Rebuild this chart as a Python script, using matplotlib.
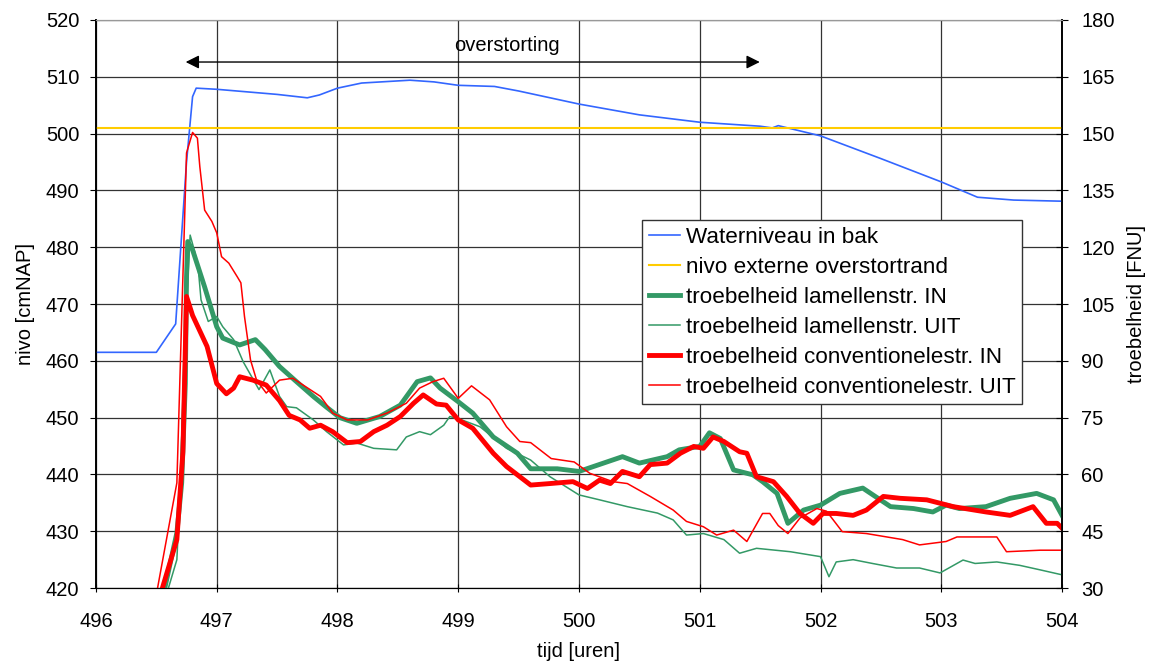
import matplotlib.pyplot as plt
from matplotlib.lines import Line2D

plt.rcParams['font.family'] = ['Liberation Sans', 'DejaVu Sans']

# waterniveau (links, cmNAP)
t_nivo = [496.0, 496.5, 496.66, 496.75, 496.8, 496.83, 497.0, 497.5, 497.75, 497.85,
          498.0, 498.2, 498.6, 498.8, 499.0, 499.3, 499.5, 500.0, 500.5, 501.0,
          501.5, 501.6, 501.65, 502.0, 502.5, 503.0, 503.3, 503.6, 504.0]
nivo = [461.5, 461.5, 466.5, 495.0, 506.5, 508.0, 507.8, 506.9, 506.3, 506.8,
        508.0, 508.9, 509.4, 509.1, 508.5, 508.3, 507.5, 505.2, 503.3, 502.0,
        501.3, 501.0, 501.4, 499.6, 495.6, 491.5, 488.8, 488.3, 488.1]
overstortrand = 501.0

# troebelheid (rechts, FNU)
t_lam_in = [496.55, 496.57, 496.67, 496.71, 496.74, 496.75, 496.76, 496.8, 496.9, 497.0,
            497.05, 497.19, 497.32, 497.4, 497.52, 497.65, 497.8, 497.9, 498.02, 498.16,
            498.35, 498.52, 498.66, 498.77, 498.85, 499.0, 499.12, 499.29, 499.49, 499.6,
            499.82, 500.0, 500.12, 500.36, 500.5, 500.73, 500.83, 501.0, 501.08, 501.17,
            501.28, 501.44, 501.52, 501.64, 501.73, 501.86, 502.0, 502.16, 502.35, 502.58,
            502.77, 502.93, 503.04, 503.15, 503.37, 503.57, 503.79, 503.93, 504.0]
lam_in = [27, 30, 44.6, 57.8, 84, 112.2, 121.5, 119.3, 109.5, 99,
          96, 94.2, 95.6, 93, 88.5, 84.8, 80.6, 78, 75, 73.5,
          75.3, 78.3, 84.5, 85.5, 82.8, 79.2, 76.2, 69.9, 65.6, 61.5,
          61.5, 60.8, 62.1, 64.7, 63, 64.7, 66.5, 67.4, 71, 69.5,
          61.2, 59.9, 58.1, 55, 47.1, 50.6, 51.9, 55, 56.4, 51.5,
          51, 50.1, 51.9, 51, 51.5, 53.7, 55, 53.3, 49.2]

t_lam_uit = [496.57, 496.6, 496.67, 496.7, 496.73, 496.78, 496.82, 496.85, 496.87, 496.93,
             497.0, 497.05, 497.14, 497.22, 497.35, 497.44, 497.52, 497.58, 497.66, 497.8,
             497.91, 498.05, 498.16, 498.3, 498.49, 498.57, 498.68, 498.77, 498.88, 498.93,
             499.03, 499.18, 499.4, 499.6, 499.76, 500.0, 500.17, 500.4, 500.65, 500.78,
             500.89, 501.03, 501.2, 501.33, 501.47, 501.75, 502.0, 502.07, 502.13, 502.27,
             502.43, 502.63, 502.82, 502.99, 503.18, 503.28, 503.46, 503.65, 503.82, 504.0]
lam_uit = [27, 30, 37.5, 57.8, 92.9, 123.2, 118.5, 113.3, 106.1, 100.4,
           101.7, 99, 95.6, 89.7, 82.4, 87.6, 80.6, 77.9, 77.6, 74.4,
           71.3, 67.8, 68.3, 66.9, 66.5, 69.9, 71.3, 70.5, 73, 75.3,
           74.4, 72.6, 66.9, 63.8, 59.4, 54.6, 53.3, 51.5, 49.8, 48,
           44, 44.4, 42.8, 39.2, 40.5, 39.6, 38.3, 33, 36.9, 37.5,
           36.5, 35.3, 35.3, 34, 37.4, 36.5, 36.9, 36, 34.8, 33.5]

t_conv_in = [496.5, 496.55, 496.67, 496.72, 496.75, 496.8, 496.92, 497.0, 497.08, 497.14,
             497.19, 497.3, 497.41, 497.52, 497.6, 497.69, 497.77, 497.86, 497.96, 498.08,
             498.19, 498.3, 498.41, 498.52, 498.63, 498.71, 498.82, 498.9, 499.0, 499.12,
             499.29, 499.4, 499.6, 499.76, 499.95, 500.07, 500.17, 500.26, 500.36, 500.5,
             500.59, 500.73, 500.84, 500.95, 501.03, 501.11, 501.2, 501.33, 501.39, 501.47,
             501.61, 501.72, 501.83, 501.94, 502.02, 502.13, 502.27, 502.38, 502.52, 502.66,
             502.88, 502.99, 503.1, 503.37, 503.57, 503.76, 503.87, 503.96, 504.0]
conv_in = [25.5, 30, 42.8, 66, 107, 102, 93.8, 84, 81.3, 82.8,
           85.8, 84.9, 83.6, 79.5, 75.6, 74.4, 72.2, 73, 71.3, 68.4,
           68.7, 71.3, 73, 75.3, 78.8, 81, 78.6, 78.3, 74.4, 72.2,
           65.6, 62.1, 57.2, 57.6, 58.1, 56.3, 58.5, 57.6, 60.8, 59.4,
           62.6, 63, 65.6, 67.4, 66.9, 69.9, 68.7, 66, 65.6, 59.4,
           58.1, 54.2, 49.7, 47.1, 49.7, 49.7, 49.2, 50.6, 54.2, 53.7,
           53.3, 52.4, 51.5, 50.1, 49.2, 51.5, 47.1, 47.1, 45.8]

t_conv_uit = [496.45, 496.51, 496.67, 496.75, 496.8, 496.84, 496.86, 496.9, 496.96, 497.0,
              497.04, 497.1, 497.17, 497.2, 497.23, 497.28, 497.33, 497.41, 497.52, 497.63,
              497.74, 497.86, 497.96, 498.08, 498.25, 498.41, 498.57, 498.68, 498.79, 498.88,
              499.0, 499.11, 499.26, 499.4, 499.51, 499.6, 499.77, 499.96, 500.09, 500.28,
              500.4, 500.59, 500.78, 500.89, 501.03, 501.14, 501.28, 501.39, 501.52, 501.58,
              501.65, 501.73, 501.83, 501.97, 502.05, 502.18, 502.38, 502.68, 502.82, 503.04,
              503.13, 503.46, 503.54, 503.82, 504.0]
conv_uit = [25.5, 30, 57.8, 144.9, 150.3, 148.8, 141.3, 129.8, 126.8, 123.8,
            117.5, 115.8, 112.2, 110.6, 101.7, 90.2, 84.9, 81.5, 84.9, 85.4,
            83.1, 80.6, 76.2, 74.4, 74.4, 76.2, 78.8, 82.8, 84.5, 85.4,
            80.1, 83.4, 79.7, 72.6, 68.7, 68.4, 64.2, 63.3, 60.3, 58.1,
            57.6, 54.2, 50.6, 47.6, 46.2, 44, 45.3, 42.3, 49.7, 49.7,
            46.5, 44.4, 48.5, 51, 50.3, 44.9, 44.4, 42.8, 41.4, 42.3,
            43.5, 43.5, 39.6, 40, 40]

blue = '#3366FF'
yellow = '#FFCC00'
green = '#339966'
red = '#FF0000'

fig = plt.figure(figsize=(11.52, 6.66), dpi=100)
ax = fig.add_axes([0.0833, 0.117, 0.8386, 0.853])
ax2 = ax.twinx()

ax.plot(t_nivo, nivo, color=blue, lw=1.2, zorder=3)
ax.axhline(overstortrand, color=yellow, lw=1.5, zorder=3)

ax2.plot(t_lam_in, lam_in, color=green, lw=3.5)
ax2.plot(t_lam_uit, lam_uit, color=green, lw=1.1)
ax2.plot(t_conv_in, conv_in, color=red, lw=3.5)
ax2.plot(t_conv_uit, conv_uit, color=red, lw=1.1)

ax.set_xlim(496, 504)
ax.set_ylim(420, 520)
ax2.set_ylim(30, 180)
ax.set_yticks(range(420, 521, 10))
ax2.set_yticks(range(30, 181, 15))
ax.set_xticks(range(496, 505))

ax.grid(True, color='#333333', lw=0.9)
ax.set_axisbelow(True)
ax.tick_params(axis='y', labelsize=14.5, direction='out', length=4, pad=8)
ax.tick_params(axis='x', labelsize=14.5, direction='inout', length=6, pad=14)
ax2.tick_params(axis='y', labelsize=14.5, direction='inout', length=8, pad=10)
for a in (ax, ax2):
    a.spines['top'].set_color('#999999')
    a.spines['left'].set_linewidth(1.2)
    a.spines['right'].set_linewidth(1.2)

ax.set_ylabel('nivo [cmNAP]', fontsize=14.5, labelpad=8)
ax2.set_ylabel('troebelheid [FNU]', fontsize=14.5, labelpad=9)
ax.set_xlabel('tijd [uren]', fontsize=14.5, labelpad=8)

# overstorting pijl
ax.annotate('', xy=(496.72, 512.6), xytext=(501.52, 512.6),
            arrowprops=dict(arrowstyle='<|-|>', color='black', lw=1, mutation_scale=20))
ax.text(499.4, 515.5, 'overstorting', ha='center', va='center', fontsize=14.5)

handles = [
    Line2D([], [], color=blue, lw=1.2),
    Line2D([], [], color=yellow, lw=1.5),
    Line2D([], [], color=green, lw=3.5),
    Line2D([], [], color=green, lw=1.1),
    Line2D([], [], color=red, lw=3.5),
    Line2D([], [], color=red, lw=1.1),
]
labels = ['Waterniveau in bak', 'nivo externe overstortrand',
          'troebelheid lamellenstr. IN', 'troebelheid lamellenstr. UIT',
          'troebelheid conventionelestr. IN', 'troebelheid conventionelestr. UIT']
leg = ax2.legend(handles, labels, loc='upper left', bbox_to_anchor=(0.565, 0.648),
                 fontsize=16.2, frameon=True, fancybox=False, framealpha=1,
                 edgecolor='#333333', borderpad=0.3, labelspacing=0.4,
                 handlelength=1.4, handletextpad=0.25, borderaxespad=0)
leg.get_frame().set_linewidth(1.0)

fig.savefig('out.png', dpi=100)
